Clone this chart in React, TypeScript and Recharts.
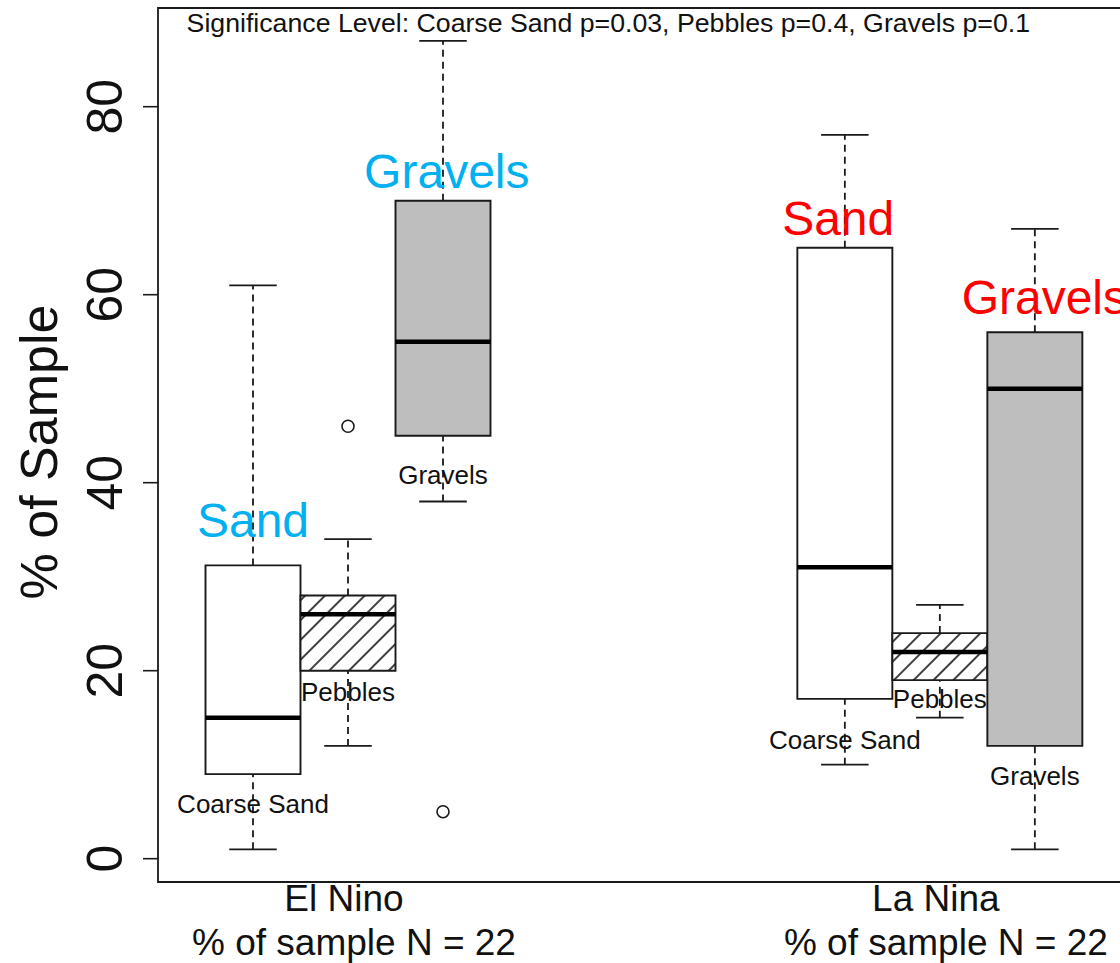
import React from "react";
import {
    ScatterChart,
    Scatter,
    XAxis,
    YAxis,
    ReferenceArea,
    ReferenceLine,
    ReferenceDot,
} from "recharts";

// Data
const groups = ["El Nino", "La Nina"];
const groupSubtitle = "% of sample N = 22";
const materials = ["Coarse Sand", "Pebbles", "Gravels"];

// order: El Nino (Coarse Sand, Pebbles, Gravels), La Nina (Coarse Sand, Pebbles, Gravels)
const whiskerLow = [1, 12, 38, 10, 15, 1];
const quartileLow = [9, 20, 45, 17, 19, 12];
const medians = [15, 26, 55, 31, 22, 50];
const quartileHigh = [31.2, 28, 70, 65, 24, 56];
const whiskerHigh = [61, 34, 87, 77, 27, 67];

const outliers = [
    { group: 0, material: 1, value: 46 },
    { group: 0, material: 2, value: 5 },
];

const yTicks = [0, 20, 40, 60, 80];
const title = "Significance Level: Coarse Sand p=0.03, Pebbles p=0.4, Gravels p=0.1";

// Layout
const FONT = '"Liberation Sans", Arial, Helvetica, sans-serif';
const BLUE = "#00B0F0";
const RED = "#FF0000";
const INK = "#1a1a1a";
const GROUP_START = [1, 7.23];
const X_DOMAIN: [number, number] = [0, 10.3];
const Y_DOMAIN: [number, number] = [-2.48, 90.5];
const BOX_HALF = 0.5;
const CAP_HALF = 0.25;
const BOX_FILLS = ["#FFFFFF", "url(#hatch)", "#BEBEBE"];

// annotation placement (x in box slots, y in % units)
const bigLabels = [
    { text: "Sand", x: 1.0, y: 36.0, color: BLUE },
    { text: "Gravels", x: 3.04, y: 73.2, color: BLUE },
    { text: "Sand", x: 7.16, y: 68.2, color: RED },
    { text: "Gravels", x: 9.33, y: 59.8, color: RED },
];
const smallLabelY = [5.8, 17.8, 40.8, 12.7, 17.0, 8.8];
const titleAt = { x: 4.74, y: 89.0 };

const boxes = groups.flatMap((g, gi) =>
    materials.map((m, mi) => {
        const k = gi * materials.length + mi;
        return {
            key: `${g}-${m}`,
            material: m,
            mi,
            pos: GROUP_START[gi] + mi,
            lo: whiskerLow[k],
            q1: quartileLow[k],
            med: medians[k],
            q3: quartileHigh[k],
            hi: whiskerHigh[k],
            labelY: smallLabelY[k],
        };
    })
);

const outlierPoints = outliers.map((o) => ({ x: GROUP_START[o.group] + o.material, y: o.value }));
const groupTicks = GROUP_START.map((s) => s + 1);

function textLabel(text: string, fontSize: number, color: string) {
    return (props: any) => {
        const vb = props.viewBox || {};
        const cx = (vb.x ?? 0) + (vb.width ?? 0) / 2;
        const cy = (vb.y ?? 0) + (vb.height ?? 0) / 2;
        return (
            <text
                x={cx}
                y={cy}
                dy={fontSize * 0.355}
                textAnchor="middle"
                fontFamily={FONT}
                fontSize={fontSize}
                fill={color}
            >
                {text}
            </text>
        );
    };
}

function YTick({ x, y, payload }: any) {
    return (
        <text
            x={x}
            y={y}
            transform={`rotate(-90 ${x} ${y})`}
            textAnchor="middle"
            fontFamily={FONT}
            fontSize={50}
            fill="#111"
        >
            {payload.value}
        </text>
    );
}

function XTick({ x, y, index }: any) {
    return (
        <g>
            <text x={x - 4} y={y + 29} textAnchor="middle" fontFamily={FONT} fontSize={37} fill="#111">
                {groups[index]}
            </text>
            <text x={x + 6} y={y + 73} textAnchor="middle" fontFamily={FONT} fontSize={37} fill="#111">
                {groupSubtitle}
            </text>
        </g>
    );
}

function YLabel({ viewBox }: any) {
    const x = (viewBox?.x ?? 0) + 57;
    const y = (viewBox?.y ?? 0) + (viewBox?.height ?? 0) / 2 + 7;
    return (
        <text
            x={x}
            y={y}
            transform={`rotate(-90 ${x} ${y})`}
            textAnchor="middle"
            fontFamily={FONT}
            fontSize={52}
            fill="#111"
        >
            % of Sample
        </text>
    );
}

function Outlier({ cx, cy }: any) {
    return <circle cx={cx} cy={cy} r={6} fill="#fff" stroke={INK} strokeWidth={1.6} />;
}

export default function App() {
    return (
        <div style={{ position: "absolute", left: 0, top: 0, width: 1120, height: 963, overflow: "hidden", background: "#fff" }}>
            <svg width={0} height={0} style={{ position: "absolute" }}>
                <defs>
                    <pattern id="hatch" patternUnits="userSpaceOnUse" width={14} height={14} patternTransform="rotate(45)">
                        <rect x={0} y={0} width={14} height={14} fill="#fff" />
                        <line x1={7} y1={0} x2={7} y2={14} stroke="#000" strokeWidth={1.5} />
                    </pattern>
                </defs>
            </svg>
            <ScatterChart width={1140} height={963} margin={{ top: 8, right: 3.5, left: 0, bottom: 0 }}>
                <XAxis
                    type="number"
                    dataKey="x"
                    domain={X_DOMAIN}
                    allowDataOverflow
                    ticks={groupTicks}
                    interval={0}
                    tickLine={false}
                    axisLine={false}
                    tickSize={0}
                    tickMargin={0}
                    height={81}
                    tick={<XTick />}
                />
                <YAxis
                    type="number"
                    dataKey="y"
                    domain={Y_DOMAIN}
                    allowDataOverflow
                    ticks={yTicks}
                    interval={0}
                    width={158}
                    tickSize={15}
                    tickMargin={21}
                    axisLine={false}
                    tickLine={{ stroke: INK, strokeWidth: 1.6 }}
                    tick={<YTick />}
                    label={<YLabel />}
                />

                {/* plot frame */}
                <ReferenceArea
                    x1={X_DOMAIN[0]}
                    x2={X_DOMAIN[1]}
                    y1={Y_DOMAIN[0]}
                    y2={Y_DOMAIN[1]}
                    fill="none"
                    fillOpacity={0}
                    stroke={INK}
                    strokeWidth={1.8}
                />

                {/* whiskers and caps */}
                {boxes.map((b) => (
                    <ReferenceLine
                        key={`wu-${b.key}`}
                        segment={[{ x: b.pos, y: b.q3 }, { x: b.pos, y: b.hi }]}
                        stroke={INK}
                        strokeWidth={1.8}
                        strokeDasharray="7 5"
                    />
                ))}
                {boxes.map((b) => (
                    <ReferenceLine
                        key={`wl-${b.key}`}
                        segment={[{ x: b.pos, y: b.lo }, { x: b.pos, y: b.q1 }]}
                        stroke={INK}
                        strokeWidth={1.8}
                        strokeDasharray="7 5"
                    />
                ))}
                {boxes.map((b) => (
                    <ReferenceLine
                        key={`ch-${b.key}`}
                        segment={[{ x: b.pos - CAP_HALF, y: b.hi }, { x: b.pos + CAP_HALF, y: b.hi }]}
                        stroke={INK}
                        strokeWidth={1.8}
                    />
                ))}
                {boxes.map((b) => (
                    <ReferenceLine
                        key={`cl-${b.key}`}
                        segment={[{ x: b.pos - CAP_HALF, y: b.lo }, { x: b.pos + CAP_HALF, y: b.lo }]}
                        stroke={INK}
                        strokeWidth={1.8}
                    />
                ))}

                {/* boxes */}
                {boxes.map((b) => (
                    <ReferenceArea
                        key={`box-${b.key}`}
                        x1={b.pos - BOX_HALF}
                        x2={b.pos + BOX_HALF}
                        y1={b.q1}
                        y2={b.q3}
                        fill={BOX_FILLS[b.mi]}
                        fillOpacity={1}
                        stroke={INK}
                        strokeWidth={1.9}
                    />
                ))}
                {boxes.map((b) => (
                    <ReferenceLine
                        key={`med-${b.key}`}
                        segment={[{ x: b.pos - BOX_HALF, y: b.med }, { x: b.pos + BOX_HALF, y: b.med }]}
                        stroke="#000"
                        strokeWidth={4.5}
                    />
                ))}

                <Scatter data={outlierPoints} shape={<Outlier />} isAnimationActive={false} />

                {/* box names */}
                {boxes.map((b) => (
                    <ReferenceDot
                        key={`lab-${b.key}`}
                        x={b.pos}
                        y={b.labelY}
                        r={0}
                        fill="none"
                        stroke="none"
                        label={textLabel(b.material, 26, "#111")}
                    />
                ))}
                {bigLabels.map((l, i) => (
                    <ReferenceDot
                        key={`big-${i}`}
                        x={l.x}
                        y={l.y}
                        r={0}
                        fill="none"
                        stroke="none"
                        label={textLabel(l.text, 48, l.color)}
                    />
                ))}
                <ReferenceDot
                    x={titleAt.x}
                    y={titleAt.y}
                    r={0}
                    fill="none"
                    stroke="none"
                    label={textLabel(title, 26.7, "#111")}
                />
            </ScatterChart>
        </div>
    );
}
